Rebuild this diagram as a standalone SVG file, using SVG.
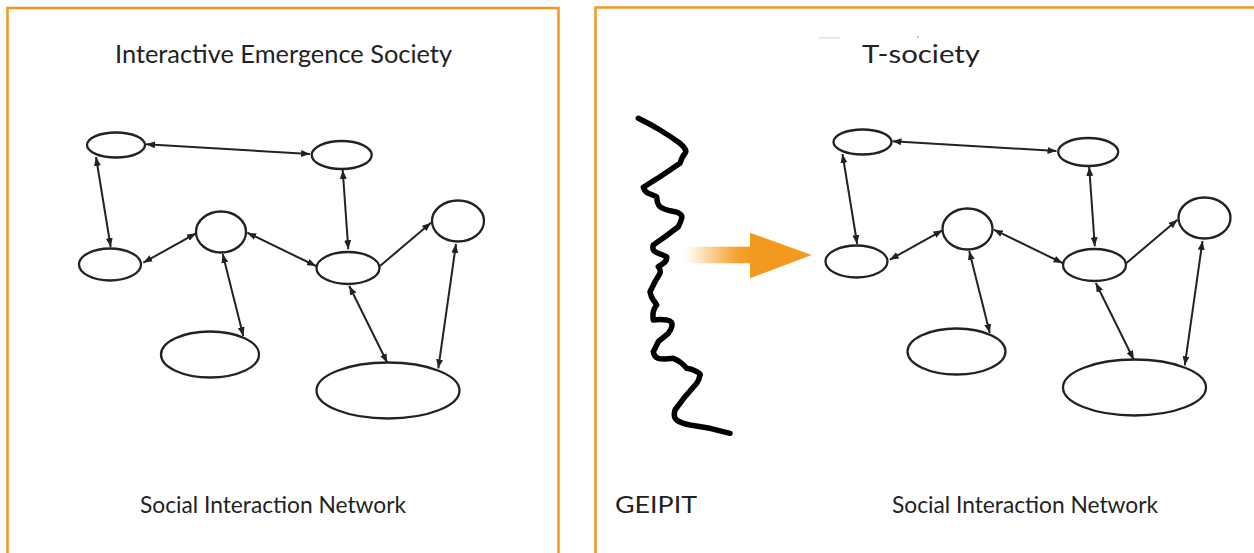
<svg xmlns="http://www.w3.org/2000/svg" width="1254" height="553" viewBox="0 0 1254 553">
  <style>
    .panel { fill: none; stroke: #f4961e; stroke-width: 2.5; }
    .node { fill: #ffffff; stroke: #222222; stroke-width: 2.3; }
    .link { stroke: #222222; stroke-width: 2; fill: none; }
    .both { marker-start: url(#head); marker-end: url(#head); }
    .one { marker-end: url(#head); }
    .label { font-family: Lato, "Open Sans", "Liberation Sans", sans-serif; fill: #222222; }
    .title { font-size: 25px; }
    .caption { font-size: 22.5px; }
  </style>
  <defs>
    <marker id="head" viewBox="0 0 9 7" refX="9" refY="3.5" markerWidth="9" markerHeight="7" markerUnits="userSpaceOnUse" orient="auto-start-reverse">
      <path d="M0,0 L9,3.5 L0,7 z" fill="#222222"/>
    </marker>
    <linearGradient id="shaftFade" x1="0" y1="0" x2="1" y2="0">
      <stop offset="0" stop-color="#f39a1e" stop-opacity="0"/>
      <stop offset="0.75" stop-color="#f39a1e" stop-opacity="0.9"/>
      <stop offset="1" stop-color="#f39a1e" stop-opacity="1"/>
    </linearGradient>
  </defs>

  <rect width="1254" height="553" fill="#ffffff"/>

  <!-- panel frames (open at the bottom edge) -->
  <rect class="panel" x="7.5" y="8" width="551" height="570"/>
  <rect class="panel" x="595.5" y="7.5" width="700" height="570"/>

  <!-- titles and captions -->
  <text class="label title" x="115" y="63" textLength="337" lengthAdjust="spacingAndGlyphs">Interactive Emergence Society</text>
  <text class="label title" x="862" y="63" textLength="118" lengthAdjust="spacingAndGlyphs">T-society</text>
  <text class="label caption" x="140" y="513" textLength="266" lengthAdjust="spacingAndGlyphs">Social Interaction Network</text>
  <text class="label caption" x="615" y="513" textLength="82" lengthAdjust="spacingAndGlyphs">GEIPIT</text>
  <text class="label caption" x="892" y="513" textLength="266" lengthAdjust="spacingAndGlyphs">Social Interaction Network</text>

  <!-- faint marks near the right title -->
  <rect x="818" y="37" width="22" height="1.5" fill="#e2e2e2"/>
  <circle cx="918" cy="37" r="1" fill="#bbbbbb"/>

  <!-- left network: connectors -->
  <g id="left-links">
    <line class="link both" x1="146" y1="144.3" x2="310" y2="154"/>
    <line class="link both" x1="96" y1="157" x2="110.7" y2="247"/>
    <line class="link both" x1="342.7" y1="170" x2="348.3" y2="249.3"/>
    <line class="link both" x1="143.3" y1="262.7" x2="196" y2="233.3"/>
    <line class="link both" x1="247.3" y1="232.7" x2="316" y2="266"/>
    <line class="link one" x1="380" y1="266" x2="431" y2="222.7"/>
    <line class="link both" x1="222.7" y1="254" x2="243.3" y2="336"/>
    <line class="link both" x1="349.3" y1="286" x2="387.3" y2="362.7"/>
    <line class="link both" x1="456" y1="244" x2="438.3" y2="368.3"/>
  </g>
  <!-- left network: nodes -->
  <g id="left-a"><ellipse class="node" cx="116" cy="145" rx="29" ry="12.5"/></g>
  <g id="left-b"><ellipse class="node" cx="341.7" cy="155" rx="30" ry="14"/></g>
  <g id="left-c"><ellipse class="node" cx="221" cy="232" rx="25" ry="20.5"/></g>
  <g id="left-d"><ellipse class="node" cx="110" cy="264.5" rx="31" ry="16"/></g>
  <g id="left-e"><ellipse class="node" cx="348" cy="268" rx="31.5" ry="16"/></g>
  <g id="left-f"><ellipse class="node" cx="458" cy="221" rx="26" ry="20.5"/></g>
  <g id="left-g"><ellipse class="node" cx="210" cy="354.5" rx="49" ry="23"/></g>
  <g id="left-h"><ellipse class="node" cx="388" cy="390.5" rx="71.5" ry="28"/></g>

  <!-- transition: rough boundary and orange arrow -->
  <g id="boundary">
    <path d="M638.3,118.3 Q650,124 660,130 T680,143.3 Q688,150 685,153.3 T680,163.3 L660,176.7 L643.3,187.3 Q645,192 648.3,193.3 T656.7,196.7 Q657,204 660,206.7 T675,211.7 Q683,214 681.7,218.3 T678.3,226.7 L665,236.7 L653.3,245 Q652,250 655,251.7 T666.7,256.7 Q667,261 663.3,263.3 T658.3,266.7 Q661,270 660,273.3 L655,281.7 L650,291.7 Q651,297 653.3,300 T656.7,305 Q654,308 653.3,311.7 T653.3,320 Q660,319 666.7,320 T671.7,326.7 Q671,330 668.3,333.3 L658.3,341.7 L653.3,351.7 Q654,357 658.3,358.3 T673.3,358.3 Q678,360 681.7,363.3 T686.7,368.3 Q692,369 696.7,371.7 T700,375 Q699,380 696.7,383.3 L685,396.7 L675,410 Q673,417 676.7,420 T690,425 L710,428.3 L730,433.3" fill="none" stroke="#000000" stroke-width="5.5" stroke-linejoin="round" stroke-linecap="round"/>
  </g>
  <g id="transition-arrow">
    <rect x="685" y="246.7" width="67" height="16.6" fill="url(#shaftFade)"/>
    <path d="M750,232.7 L811.7,255 L750,278.3 z" fill="#f39a1e"/>
  </g>

  <!-- right network (same layout, shifted) -->
  <g transform="translate(746.5,-3)">
    <g id="right-links">
      <line class="link both" x1="146" y1="144.3" x2="310" y2="154"/>
      <line class="link both" x1="96" y1="157" x2="110.7" y2="247"/>
      <line class="link both" x1="342.7" y1="170" x2="348.3" y2="249.3"/>
      <line class="link both" x1="143.3" y1="262.7" x2="196" y2="233.3"/>
      <line class="link both" x1="247.3" y1="232.7" x2="316" y2="266"/>
      <line class="link one" x1="380" y1="266" x2="431" y2="222.7"/>
      <line class="link both" x1="222.7" y1="254" x2="243.3" y2="336"/>
      <line class="link both" x1="349.3" y1="286" x2="387.3" y2="362.7"/>
      <line class="link both" x1="456" y1="244" x2="438.3" y2="368.3"/>
    </g>
    <g id="right-a"><ellipse class="node" cx="116" cy="145" rx="29" ry="12.5"/></g>
    <g id="right-b"><ellipse class="node" cx="341.7" cy="155" rx="30" ry="14"/></g>
    <g id="right-c"><ellipse class="node" cx="221" cy="232" rx="25" ry="20.5"/></g>
    <g id="right-d"><ellipse class="node" cx="110" cy="264.5" rx="31" ry="16"/></g>
    <g id="right-e"><ellipse class="node" cx="348" cy="268" rx="31.5" ry="16"/></g>
    <g id="right-f"><ellipse class="node" cx="458" cy="221" rx="26" ry="20.5"/></g>
    <g id="right-g"><ellipse class="node" cx="210" cy="354.5" rx="49" ry="23"/></g>
    <g id="right-h"><ellipse class="node" cx="388" cy="390.5" rx="71.5" ry="28"/></g>
  </g>
</svg>
